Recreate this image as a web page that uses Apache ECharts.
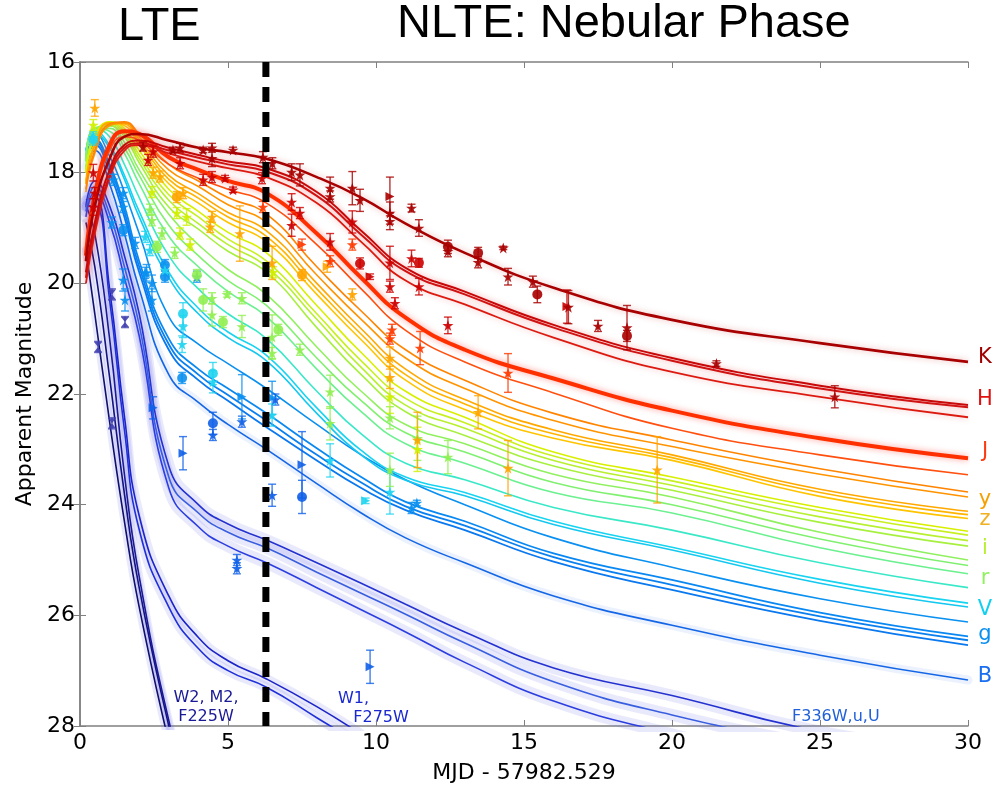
<!DOCTYPE html>
<html>
<head>
<meta charset="utf-8">
<script src="https://cdn.jsdelivr.net/npm/echarts@6/dist/echarts.min.js"></script>
<style>
  html, body { margin: 0; padding: 0; background: #fff; }
  #chart { width: 992px; height: 785px; }
</style>
</head>
<body>
<div id="chart"></div>
<script>
// Epochs (days after merger) at which every model light curve is tabulated
const knotDays = [0.2, 0.5, 1, 1.5, 2, 3, 4, 5, 6.3, 8, 9.5, 11, 13, 16, 20, 25, 30];

// Model light curves (apparent magnitude at each knot), grouped by band
const curveK  = [19.6, 18.6, 17.75, 17.35, 17.3, 17.42, 17.55, 17.63, 17.75, 18.08, 18.45, 18.92, 19.45, 20.08, 20.66, 21.08, 21.42];
const curveH1 = [19.8, 18.9, 17.95, 17.5, 17.42, 17.55, 17.68, 17.8, 17.92, 18.35, 19.05, 19.72, 20.15, 20.75, 21.35, 21.85, 22.2];
const curveH2 = [19.9, 19.0, 18.05, 17.55, 17.47, 17.6, 17.73, 17.85, 17.98, 18.42, 19.12, 19.78, 20.2, 20.8, 21.4, 21.9, 22.24];
const curveH3 = [20.0, 19.1, 18.1, 17.6, 17.5, 17.65, 17.8, 17.92, 18.08, 18.55, 19.25, 19.95, 20.38, 20.98, 21.6, 22.05, 22.42];
const curveJ1 = [19.5, 18.4, 17.5, 17.25, 17.3, 17.72, 17.95, 18.15, 18.37, 19.1, 19.9, 20.62, 21.2, 21.72, 22.3, 22.8, 23.16];
const curveJ2 = [19.6, 18.5, 17.6, 17.35, 17.42, 17.85, 18.1, 18.3, 18.55, 19.3, 20.1, 20.85, 21.42, 21.98, 22.62, 23.1, 23.46];
const curveY1 = [18.3, 17.6, 17.12, 17.08, 17.3, 17.85, 18.15, 18.45, 18.75, 19.7, 20.5, 21.2, 21.75, 22.35, 22.83, 23.35, 23.77];
const curveY2 = [18.35, 17.65, 17.15, 17.1, 17.35, 17.95, 18.25, 18.58, 18.9, 19.85, 20.65, 21.35, 21.9, 22.48, 22.95, 23.45, 23.86];
const curveZ1 = [18.2, 17.5, 17.1, 17.1, 17.4, 18.05, 18.38, 18.72, 19.05, 20.0, 20.82, 21.55, 22.1, 22.65, 23.1, 23.72, 24.12];
const curveZ2 = [18.2, 17.5, 17.1, 17.12, 17.45, 18.12, 18.46, 18.8, 19.15, 20.1, 20.92, 21.65, 22.18, 22.72, 23.15, 23.78, 24.18];
const curveZ3 = [18.15, 17.45, 17.1, 17.15, 17.5, 18.2, 18.55, 18.9, 19.25, 20.2, 21.02, 21.75, 22.28, 22.8, 23.2, 23.85, 24.25];
const curveI1 = [18.0, 17.35, 17.08, 17.2, 17.6, 18.3, 18.7, 19.08, 19.45, 20.4, 21.25, 21.95, 22.42, 23.05, 23.5, 24.05, 24.48];
const curveI2 = [18.0, 17.35, 17.1, 17.25, 17.68, 18.4, 18.8, 19.2, 19.6, 20.55, 21.4, 22.08, 22.52, 23.12, 23.57, 24.12, 24.55];
const curveI3 = [17.95, 17.3, 17.12, 17.3, 17.75, 18.5, 18.92, 19.3, 19.7, 20.65, 21.52, 22.2, 22.62, 23.2, 23.65, 24.22, 24.65];
const curveI4 = [17.95, 17.3, 17.15, 17.35, 17.82, 18.62, 19.02, 19.42, 19.8, 20.8, 21.65, 22.32, 22.75, 23.3, 23.74, 24.32, 24.75];
const curveR1 = [17.8, 17.2, 17.15, 17.45, 17.95, 18.75, 19.3, 19.75, 20.2, 21.15, 21.95, 22.55, 22.9, 23.45, 23.86, 24.5, 25.0];
const curveR2 = [17.8, 17.2, 17.2, 17.55, 18.05, 18.95, 19.5, 19.95, 20.4, 21.35, 22.12, 22.7, 23.05, 23.6, 24.0, 24.62, 25.1];
const curveR3 = [17.75, 17.2, 17.25, 17.65, 18.2, 19.15, 19.7, 20.15, 20.6, 21.55, 22.32, 22.9, 23.25, 23.78, 24.15, 24.78, 25.25];
const curveV1 = [17.7, 17.2, 17.35, 17.85, 18.45, 19.5, 20.1, 20.55, 21.0, 21.95, 22.72, 23.25, 23.55, 24.05, 24.46, 25.05, 25.5];
const curveV2 = [17.6, 17.25, 17.5, 18.05, 18.7, 19.8, 20.45, 20.88, 21.3, 22.25, 23.02, 23.5, 23.78, 24.3, 24.77, 25.35, 25.78];
const curveV3 = [17.6, 17.3, 17.55, 18.12, 18.8, 19.9, 20.55, 20.98, 21.4, 22.35, 23.1, 23.56, 23.84, 24.36, 24.82, 25.42, 25.85];
const curveG1 = [17.6, 17.3, 17.7, 18.35, 19.1, 20.6, 21.1, 21.45, 21.9, 22.55, 23.1, 23.55, 24.0, 24.6, 25.13, 25.7, 26.12];
const curveG2 = [17.7, 17.4, 17.85, 18.6, 19.6, 21.0, 21.55, 21.9, 22.35, 22.98, 23.5, 23.95, 24.3, 24.88, 25.36, 25.95, 26.38];
const curveG3 = [17.7, 17.45, 17.9, 18.7, 19.7, 21.1, 21.65, 22.02, 22.48, 23.1, 23.6, 24.03, 24.38, 24.95, 25.45, 26.02, 26.45];
const curveG4 = [17.75, 17.5, 18.0, 18.8, 19.8, 21.2, 21.75, 22.12, 22.6, 23.2, 23.7, 24.1, 24.46, 25.03, 25.54, 26.1, 26.54];
const curveB  = [17.9, 17.6, 18.2, 19.1, 20.1, 21.65, 22.15, 22.55, 23.0, 23.62, 24.15, 24.6, 25.05, 25.65, 26.18, 26.72, 27.17];
const curveU1 = [18.6, 18.15, 18.6, 19.5, 20.55, 23.3, 24.0, 24.35, 24.64, 25.05, 25.42, 25.8, 26.3, 26.95, 27.45, 28.1, 28.5];
const curveU2 = [18.7, 18.25, 18.75, 19.7, 20.75, 23.5, 24.15, 24.5, 24.78, 25.22, 25.6, 25.98, 26.5, 27.2, 27.8, 28.35, 28.8];
const curveU3 = [18.8, 18.35, 18.9, 19.9, 20.95, 23.7, 24.4, 24.75, 25.05, 25.5, 25.9, 26.3, 26.85, 27.55, 28.15, 28.8, 29.3];
const curveW1a = [18.5, 18.45, 20.1, 22.4, 24.2, 25.65, 26.4, 26.82, 27.15, 27.65, 28.15, 28.7, null, null, null, null, null];
const curveW1b = [18.6, 18.6, 20.3, 22.65, 24.45, 25.85, 26.6, 27.0, 27.3, 27.85, 28.35, 28.9, null, null, null, null, null];
const curveW2a = [19.4, 20.55, 22.5, 24.3, 25.85, 28.3, 30.5, null, null, null, null, null, null, null, null, null, null];
const curveW2b = [18.9, 19.7, 21.7, 23.8, 25.5, 28.0, 30.2, null, null, null, null, null, null, null, null, null, null];
const curveW2c = [18.6, 19.1, 21.0, 23.45, 25.3, 27.9, 29.9, null, null, null, null, null, null, null, null, null, null];

// Photometry: [days, magnitude, error, marker]  s=star o=circle >=triangle x=hourglass
const photK = [
  [2.13,17.53,0.08,'s'],[3.14,17.59,0.05,'s'],[3.38,17.55,0.08,'s'],[4.16,17.59,0.05,'s'],[4.46,17.55,0.08,'s'],
  [4.46,17.74,0.15,'s'],[5.17,17.59,0.05,'s'],[6.18,17.72,0.1,'s'],[6.5,17.83,0.1,'s'],[7.15,17.99,0.15,'s'],
  [7.43,18.04,0.2,'s'],[8.45,18.28,0.2,'s'],[8.45,18.43,0.1,'s'],[9.2,18.28,0.3,'s'],[9.46,18.5,0.2,'s'],
  [10.47,18.43,0.35,'>'],[10.47,18.73,0.2,'s'],[10.47,18.88,0.15,'s'],[11.2,18.64,0.07,'s'],[11.45,19.0,0.15,'s'],
  [12.43,19.34,0.12,'o'],[12.43,19.42,0.1,'s'],[13.45,19.45,0.1,'o'],[13.45,19.62,0.1,'s'],[14.3,19.36,0.03,'s'],
  [14.46,19.88,0.15,'s'],[15.3,19.97,0.1,'s'],[15.45,20.2,0.15,'o'],[16.5,20.43,0.3,'s'],[17.5,20.77,0.1,'s'],
  [18.48,20.8,0.4,'s'],[18.48,20.95,0.1,'o'],[21.5,21.45,0.05,'s'],[25.5,22.05,0.2,'s']
];
const photH = [
  [0.45,18.0,0.15,'s'],[0.5,18.37,0.1,'s'],[0.45,18.62,0.15,'s'],[2.47,17.62,0.1,'s'],[2.3,17.77,0.1,'s'],
  [3.38,17.83,0.1,'s'],[4.16,18.13,0.1,'s'],[4.46,18.08,0.1,'s'],[4.9,18.1,0.05,'s'],[5.17,18.31,0.05,'s'],
  [6.15,18.1,0.1,'s'],[7.15,18.53,0.15,'s'],[7.43,18.73,0.1,'s'],[7.15,18.95,0.2,'s'],[8.45,19.25,0.15,'s'],
  [9.2,18.89,0.2,'s'],[9.46,19.64,0.1,'o'],[9.8,19.88,0.05,'>'],[10.47,19.63,0.3,'s'],[10.47,20.06,0.1,'s'],
  [10.64,20.36,0.1,'s'],[11.2,19.55,0.15,'s'],[11.45,19.63,0.08,'o'],[11.45,20.06,0.15,'s'],[12.43,20.76,0.15,'s'],
  [16.45,20.42,0.3,'>']
];
const photJ = [
  [6.18,18.62,0.1,'s'],[7.5,19.3,0.1,'>'],[8.45,19.6,0.1,'s'],[9.2,19.3,0.1,'s'],[10.54,20.84,0.1,'s'],
  [10.47,21.0,0.1,'s'],[11.49,21.17,0.3,'s'],[14.46,21.62,0.35,'s']
];
const photYZ = [
  [0.5,16.83,0.15,'s'],[2.47,18.0,0.1,'s'],[2.7,18.07,0.1,'s'],[3.27,18.44,0.1,'o'],[3.48,18.37,0.1,'s'],
  [4.46,18.8,0.1,'s'],[4.4,18.98,0.1,'s'],[5.4,19.1,0.5,'s'],[6.49,19.63,0.3,'s'],[7.5,19.85,0.1,'o'],
  [8.35,19.7,0.1,'>'],[9.2,20.2,0.1,'s'],[10.47,21.35,0.2,'s'],[10.47,21.7,0.2,'s'],[11.4,22.83,0.5,'s'],
  [13.45,22.33,0.3,'s'],[14.46,23.34,0.5,'s'],[19.5,23.37,0.6,'s']
];
const photI = [
  [0.45,17.14,0.1,'s'],[2.43,18.35,0.1,'s'],[3.27,18.73,0.1,'s'],[3.6,18.8,0.15,'s'],[3.38,19.1,0.1,'s'],
  [3.72,19.3,0.1,'s'],[6.52,19.8,0.1,'s'],[10.47,22.05,0.3,'s'],[11.4,23.0,0.4,'s']
];
const photR = [
  [2.36,18.67,0.1,'s'],[2.43,18.86,0.1,'s'],[2.77,19.1,0.1,'s'],[2.6,19.34,0.1,'o'],[3.2,19.45,0.1,'s'],
  [3.95,19.85,0.1,'o'],[4.16,20.3,0.2,'o'],[4.46,20.27,0.1,'s'],[4.46,20.57,0.2,'s'],[4.83,20.7,0.1,'o'],
  [4.97,20.2,0.05,'s'],[5.47,20.27,0.1,'s'],[5.47,20.78,0.2,'s'],[6.49,20.97,0.4,'s'],[6.49,21.26,0.1,'s'],
  [6.7,20.84,0.1,'o'],[7.43,21.2,0.1,'s'],[8.45,21.96,0.3,'s'],[8.45,22.53,0.3,'s'],[10.47,22.43,0.2,'s'],
  [10.47,23.37,0.3,'s'],[12.43,23.14,0.3,'s'],[11.4,22.8,0.4,'s']
];
const photV = [
  [0.45,17.36,0.1,'s'],[0.45,17.4,0.1,'o'],[2.2,19.16,0.1,'s'],[2.36,19.4,0.1,'s'],[2.87,19.76,0.1,'s'],
  [3.48,20.55,0.2,'o'],[3.48,20.78,0.2,'s'],[3.45,21.1,0.15,'s'],[4.49,21.63,0.2,'o'],[4.49,21.78,0.2,'s'],
  [6.49,22.38,0.2,'s'],[8.45,23.2,0.3,'s'],[9.65,23.93,0.05,'>'],[10.47,23.77,0.4,'s']
];
const photG = [
  [1.12,18.13,0.1,'s'],[1.08,18.9,0.1,'s'],[1.46,18.37,0.1,'s'],[1.46,18.62,0.1,'s'],[1.46,19.04,0.1,'o'],
  [1.86,19.27,0.1,'s'],[2.2,19.81,0.1,'s'],[2.25,19.81,0.15,'s'],[2.43,20.0,0.15,'s'],[2.43,20.3,0.2,'s'],
  [2.87,19.67,0.1,'o'],[2.87,19.88,0.1,'o'],[1.46,19.94,0.2,'s'],[1.52,20.3,0.2,'s'],[3.45,21.71,0.1,'o'],
  [3.95,19.88,0.1,'s'],[5.47,22.05,0.4,'>'],[6.49,22.07,0.3,'>'],[11.38,23.97,0.05,'s'],[11.2,24.06,0.1,'s']
];
const photB = [
  [2.47,22.25,0.2,'>'],[3.48,23.07,0.3,'>'],[4.49,22.53,0.2,'o'],[4.49,22.74,0.1,'s'],[5.47,22.5,0.1,'s'],
  [6.49,23.83,0.2,'s'],[7.5,23.28,0.6,'>'],[7.5,23.86,0.3,'o'],[5.3,25.0,0.1,'s'],[5.3,25.15,0.1,'s'],
  [9.8,26.93,0.3,'>'],[6.6,22.1,0.1,'s']
];
const photUV = [
  [0.61,21.15,0.1,'x'],[1.08,20.2,0.1,'x'],[1.08,22.53,0.1,'x'],[1.52,20.7,0.1,'x']
];

const bandLabels = ['K', 'H', 'J', 'y', 'z', 'i', 'r', 'V', 'g', 'B'];
const bandLabelMags = [21.34, 22.1, 23.04, 23.9, 24.26, 24.8, 25.34, 25.9, 26.34, 27.11];
const bandLabelColors = ['#a00000', '#e01010', '#ff3a10', '#f5a000', '#f0b020', '#b8f030', '#90f060', '#10d0f0', '#0a8ff0', '#1a6ef0'];

const xTicks = [0, 5, 10, 15, 20, 25, 30];
const yTicks = [16, 18, 20, 22, 24, 26, 28];
const boundaryDay = 6.28;

// ---------------------------------------------------------------------------
const chart = echarts.init(document.getElementById('chart'), null, { renderer: 'canvas' });

const STAR = 'path://M50,0 L61.8,35.1 L98.1,35.1 L68.8,56.7 L79.4,91.9 L50,70.3 L20.6,91.9 L31.2,56.7 L1.9,35.1 L38.2,35.1 Z';
const HOURGLASS = 'path://M0,0 L10,0 L5,5 L10,10 L0,10 L5,5 Z';

function pairs(vals) {
  const out = [];
  knotDays.forEach((t, i) => { if (vals[i] !== null) out.push([t, vals[i]]); });
  return out;
}

const series = [];

function addCurve(vals, color, width, opts) {
  opts = opts || {};
  if (opts.band) {
    series.push({
      type: 'line', data: pairs(vals), smooth: 0.5, showSymbol: false, silent: true,
      lineStyle: { color: opts.band, width: opts.bandWidth || 10, cap: 'round' }, z: 1
    });
  }
  series.push({
    type: 'line', data: pairs(vals), smooth: 0.5, showSymbol: false, silent: true,
    lineStyle: Object.assign({ color: color, width: width }, opts.glow ? { shadowBlur: 6, shadowColor: opts.glow } : {}),
    z: 2
  });
}

const UVBAND = 'rgba(120,120,235,0.16)';
addCurve(curveW2a, '#10106e', 1.6, { band: UVBAND, bandWidth: 8 });
addCurve(curveW2b, '#121280', 1.6, { band: UVBAND, bandWidth: 8 });
addCurve(curveW2c, '#1a1a96', 1.6, { band: UVBAND, bandWidth: 8 });
addCurve(curveW1a, '#1c24c8', 1.6, { band: UVBAND, bandWidth: 10 });
addCurve(curveW1b, '#2030d8', 1.6, { band: UVBAND, bandWidth: 10 });
addCurve(curveU1, '#2432d0', 1.6, { band: UVBAND, bandWidth: 12 });
addCurve(curveU2, '#3a5ee0', 1.6, { band: UVBAND, bandWidth: 12 });
addCurve(curveU3, '#2c3ee0', 1.6, { band: UVBAND, bandWidth: 12 });
addCurve(curveB, '#1466e6', 1.6, { band: 'rgba(90,140,240,0.12)', bandWidth: 9 });
addCurve(curveG4, '#0a78ee', 1.8);
addCurve(curveG3, '#0a80f0', 1.8);
addCurve(curveG2, '#0a88f2', 1.8);
addCurve(curveG1, '#0a90f0', 1.6);
addCurve(curveV3, '#14c8f0', 1.6);
addCurve(curveV2, '#18d4f0', 1.6);
addCurve(curveV1, '#3ae8c8', 1.6);
addCurve(curveR3, '#6cf090', 1.6);
addCurve(curveR2, '#80f070', 1.6);
addCurve(curveR1, '#90f060', 1.6);
addCurve(curveI4, '#a8f040', 1.6);
addCurve(curveI3, '#b8f030', 1.6);
addCurve(curveI2, '#c8f020', 1.6);
addCurve(curveI1, '#d8f000', 1.6);
addCurve(curveZ3, '#ffc400', 1.6);
addCurve(curveZ2, '#ffb400', 1.6);
addCurve(curveZ1, '#ffa800', 1.6);
addCurve(curveY2, '#ff9400', 1.6);
addCurve(curveY1, '#ff8400', 1.6);
addCurve(curveJ2, '#ff5010', 1.6);
addCurve(curveJ1, '#ff3000', 4, { glow: 'rgba(255,90,80,0.6)' });
addCurve(curveH3, '#dc1a10', 1.8, { glow: 'rgba(230,60,60,0.4)' });
addCurve(curveH2, '#d01010', 2, { glow: 'rgba(230,60,60,0.4)' });
addCurve(curveH1, '#c80808', 2, { glow: 'rgba(230,60,60,0.4)' });
addCurve(curveK, '#a80000', 2.6, { glow: 'rgba(200,40,40,0.35)' });

// dashed boundary between the LTE and nebular regimes
series.push({
  type: 'line', data: [[boundaryDay, 16], [boundaryDay, 28]], showSymbol: false, silent: true,
  lineStyle: { color: '#000', width: 7, type: [15, 10] }, z: 20
});

function addPhotometry(points, color) {
  series.push({
    type: 'custom', silent: true, z: 5,
    data: points.map(p => [p[0], p[1], p[2]]),
    renderItem: function (params, api) {
      const t = api.value(0), m = api.value(1), e = api.value(2);
      const top = api.coord([t, m - e]);
      const bot = api.coord([t, m + e]);
      const cw = 4;
      const st = { stroke: color, lineWidth: 1.4, opacity: 0.8 };
      return {
        type: 'group',
        children: [
          { type: 'line', shape: { x1: top[0], y1: top[1], x2: bot[0], y2: bot[1] }, style: st },
          { type: 'line', shape: { x1: top[0] - cw, y1: top[1], x2: top[0] + cw, y2: top[1] }, style: st },
          { type: 'line', shape: { x1: bot[0] - cw, y1: bot[1], x2: bot[0] + cw, y2: bot[1] }, style: st }
        ]
      };
    }
  });
  series.push({
    type: 'scatter', silent: true, z: 6,
    data: points.map(p => {
      const item = { value: [p[0], p[1]] };
      if (p[3] === 's') { item.symbol = STAR; item.symbolSize = 11; }
      else if (p[3] === 'o') { item.symbol = 'circle'; item.symbolSize = 10; }
      else if (p[3] === '>') { item.symbol = 'triangle'; item.symbolSize = 9; item.symbolRotate = -90; }
      else { item.symbol = HOURGLASS; item.symbolSize = [8, 10]; }
      return item;
    }),
    itemStyle: { color: color, opacity: 0.9 }
  });
}

addPhotometry(photUV, '#4040b0');
addPhotometry(photB, '#1060e8');
addPhotometry(photG, '#0a90f0');
addPhotometry(photV, '#20d4f0');
addPhotometry(photR, '#90f050');
addPhotometry(photI, '#d0f000');
addPhotometry(photYZ, '#ffa400');
addPhotometry(photJ, '#ff3a00');
addPhotometry(photH, '#cc0000');
addPhotometry(photK, '#a80000');

const AXIS_FONT = 'DejaVu Sans';
const axisLine = { show: true, lineStyle: { color: '#808080', width: 1.5 } };

const graphics = [
  { type: 'text', left: 118, top: 4, style: { text: 'LTE', font: '47px "Liberation Sans", Arial, sans-serif', fill: '#000' } },
  { type: 'text', left: 397, top: 1, style: { text: 'NLTE: Nebular Phase', font: '47px "Liberation Sans", Arial, sans-serif', fill: '#000' } },
  { type: 'text', x: 206, y: 707, style: { text: 'W2, M2,\nF225W', font: '16px "DejaVu Sans"', fill: '#1a1a96', align: 'center', verticalAlign: 'middle', lineHeight: 19 } },
  { type: 'text', x: 338, y: 689, style: { text: 'W1,\n   F275W', font: '16px "DejaVu Sans"', fill: '#1a28d0', align: 'left', verticalAlign: 'top', lineHeight: 19 } },
  { type: 'text', x: 792, y: 709, style: { text: 'F336W,u,U', font: '16px "DejaVu Sans"', fill: '#2060d8', align: 'left', verticalAlign: 'top' } }
];

const option = {
  animation: false,
  backgroundColor: '#fff',
  grid: { left: 80, right: 24, top: 62, bottom: 59, containLabel: false, outerBoundsMode: 'none' },
  xAxis: [
    {
      type: 'value', min: 0, max: 30, interval: 5, position: 'bottom',
      name: 'MJD - 57982.529', nameLocation: 'middle', nameGap: 36,
      nameTextStyle: { fontFamily: AXIS_FONT, fontSize: 22, color: '#000' },
      axisLine: Object.assign({ onZero: false }, axisLine),
      axisTick: { show: true, inside: true, length: 6, lineStyle: { color: '#808080' } },
      axisLabel: { fontFamily: AXIS_FONT, fontSize: 22, color: '#000', margin: 6 },
      splitLine: { show: false }
    },
    {
      type: 'value', min: 0, max: 30, interval: 5, position: 'top',
      axisLine: axisLine,
      axisTick: { show: true, inside: true, length: 6, lineStyle: { color: '#808080' } },
      axisLabel: { show: false }, splitLine: { show: false }
    }
  ],
  yAxis: [
    {
      type: 'value', min: 16, max: 28, interval: 2, inverse: true, position: 'left',
      name: 'Apparent Magnitude', nameLocation: 'middle', nameGap: 35, nameRotate: 90,
      nameTextStyle: { fontFamily: AXIS_FONT, fontSize: 22, color: '#000' },
      axisLine: Object.assign({ onZero: false }, axisLine),
      axisTick: { show: true, inside: true, length: 6, lineStyle: { color: '#808080' } },
      axisLabel: { fontFamily: AXIS_FONT, fontSize: 22, color: '#000', margin: 5 },
      splitLine: { show: false }
    },
    {
      type: 'value', min: 16, max: 28, interval: 2, inverse: true, position: 'right',
      axisLine: axisLine,
      axisTick: { show: true, inside: true, length: 6, lineStyle: { color: '#808080' } },
      axisLabel: { show: false }, splitLine: { show: false }
    }
  ],
  series: series,
  graphic: graphics
};

chart.setOption(option);

// Band names along the right edge, positioned on the magnitude scale
const bandGraphics = bandLabels.map((b, i) => {
  const py = chart.convertToPixel({ yAxisIndex: 0 }, bandLabelMags[i]);
  return {
    type: 'text', x: 985, y: py,
    style: { text: b, font: '21px "DejaVu Sans"', fill: bandLabelColors[i], align: 'center', verticalAlign: 'middle' }
  };
});
chart.setOption({ graphic: graphics.concat(bandGraphics) });
</script>
</body>
</html>
